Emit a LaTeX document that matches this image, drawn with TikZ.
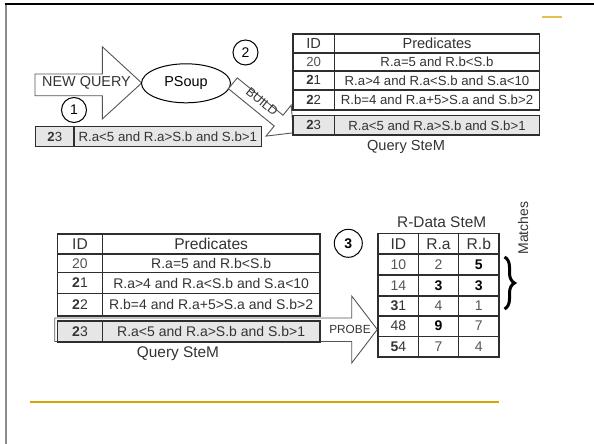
\documentclass[tikz,border=0pt]{standalone}
\usepackage{fontspec}
\setmainfont{Liberation Sans}
\usetikzlibrary{decorations.pathreplacing,shapes.geometric}

\definecolor{tblline}{HTML}{2E2E2E}
\definecolor{txt}{HTML}{333333}
\definecolor{soft}{HTML}{555555}
\definecolor{rowgray}{HTML}{E6E6E6}
\definecolor{arrowline}{HTML}{555555}
\definecolor{gold}{HTML}{D9A300}
\definecolor{goldlight}{HTML}{E3C24A}
\definecolor{framegray}{HTML}{8A8A8A}

\tikzset{
  cell/.style={draw=tblline, line width=1.6pt, fill=white, inner sep=0pt,
    anchor=north west, text=txt, font=\fontsize{13.2}{14}\selectfont},
  bigcell/.style={cell, font=\fontsize{14}{15}\selectfont},
  headcell/.style={cell, font=\fontsize{14.6}{16}\selectfont},
  bigheadcell/.style={cell, font=\fontsize{15.6}{17}\selectfont},
  graycell/.style={fill=rowgray},
  blockarrow/.style={draw=arrowline, line width=0.9pt, fill=white, line join=miter},
  marker/.style={circle, draw=black, line width=1pt, fill=white, inner sep=0pt,
    minimum size=25pt, font=\fontsize{14}{15}\selectfont},
  caption/.style={font=\fontsize{14.6}{16}\selectfont, text=txt, inner sep=0pt},
}

\begin{document}
\begin{tikzpicture}[x=1pt, y=-1pt]
\useasboundingbox (0,0) rectangle (594,444);

% page frame and accent rules
\draw[framegray, line width=2pt] (5.5,4) -- (5.5,444);
\draw[black, line width=1.3pt] (4.5,4) -- (594,4);
\draw[goldlight, line width=1.6pt] (542,17) -- (562,17);
\draw[gold, line width=1.5pt] (30,402) -- (499,402);

% ---------- upper part: new query enters PSoup and is built into the Query SteM
\coordinate (nqA) at (35,74);
\coordinate (nqTip) at (141.7,83);
\draw[blockarrow] (nqA) -- (102.3,74) -- (102.3,46.7) -- (nqTip) -- (102.3,119)
  -- (102.3,95.7) -- (35,95.7) -- cycle;
\node[caption, font=\fontsize{14.4}{16}\selectfont] (nqtext) at (86.5,83) {NEW QUERY};

\node[ellipse, draw=black, line width=1pt, fill=white, minimum width=89pt,
  minimum height=39pt, inner sep=0pt, font=\fontsize{14.4}{16}\selectfont] (psoup) at (186,83.3) {PSoup};

% BUILD arrow running from PSoup down to the stored query row
\coordinate (bS1) at (237.3,77.9);
\coordinate (bTip) at (293.5,132.8);
\draw[blockarrow] (bS1) -- (283.0,115.2) -- (291.2,105.1) -- (bTip) -- (266.0,136.1)
  -- (274.2,126.0) -- (228.4,88.7) -- cycle;
\node[inner sep=0pt, rotate=-39.2, font=\fontsize{12.5}{14}\selectfont, text=txt] (buildtxt) at (262,101.5) {BUILD};

% the incoming query
\node[cell, graycell, minimum width=38.3pt, minimum height=19.7pt, line width=1.3pt] (n23id) at (35,126) {\textbf{2}3};
\node[cell, graycell, minimum width=187.7pt, minimum height=19.7pt, line width=1.3pt,
  font=\fontsize{13.3}{14}\selectfont] (n23p) at (73.3,126) {R.a<5 and R.a>S.b and S.b>1};

\node[marker] (m1) at (74,110) {1};
\node[marker] (m2) at (245.5,52.5) {2};

% Query SteM (upper)
\node[headcell, minimum width=41.7pt, minimum height=19pt] (qhid) at (292,33.3) {ID};
\node[headcell, minimum width=205pt, minimum height=19pt] (qhp) at (333.7,33.3) {Predicates};
\node[cell, minimum width=41.7pt, minimum height=17.7pt, text=soft] (q20id) at (292,52.3) {20};
\node[cell, minimum width=205pt, minimum height=17.7pt] (q20p) at (333.7,52.3) {R.a=5 and R.b<S.b};
\node[cell, minimum width=41.7pt, minimum height=19pt] (q21id) at (292,70) {\textbf{2}1};
\node[cell, minimum width=205pt, minimum height=19pt] (q21p) at (333.7,70) {R.a>4 and R.a<S.b and S.a<10};
\node[cell, minimum width=41.7pt, minimum height=20.3pt] (q22id) at (292,89) {\textbf{2}2};
\node[cell, minimum width=205pt, minimum height=20.3pt] (q22p) at (333.7,89) {R.b=4 and R.a+5>S.a and S.b>2};
\node[cell, graycell, minimum width=41.7pt, minimum height=19.6pt] (q23id) at (292,114.7) {\textbf{2}3};
\node[cell, graycell, minimum width=205pt, minimum height=19.6pt] (q23p) at (333.7,114.7) {R.a<5 and R.a>S.b and S.b>1};
\node[caption] (qcap) at (406,146.7) {Query SteM};

% ---------- lower part: the query probes the R-Data SteM
\coordinate (pbL) at (54.7,318);
\coordinate (pbTip) at (377.3,329.5);
\draw[blockarrow] (pbL) -- (351.7,318) -- (351.7,296) -- (pbTip) -- (351.7,363)
  -- (351.7,341.5) -- (54.7,341.5) -- cycle;

% Query SteM (lower)
\node[bigheadcell, minimum width=45pt, minimum height=20pt] (bhid) at (56.7,233.3) {ID};
\node[bigheadcell, minimum width=217.3pt, minimum height=20pt] (bhp) at (101.7,233.3) {Predicates};
\node[bigcell, minimum width=45pt, minimum height=18.4pt, text=soft] (b20id) at (56.7,253.3) {20};
\node[bigcell, minimum width=217.3pt, minimum height=18.4pt] (b20p) at (101.7,253.3) {R.a=5 and R.b<S.b};
\node[bigcell, minimum width=45pt, minimum height=21pt] (b21id) at (56.7,271.7) {\textbf{2}1};
\node[bigcell, minimum width=217.3pt, minimum height=21pt] (b21p) at (101.7,271.7) {R.a>4 and R.a<S.b and S.a<10};
\node[bigcell, minimum width=45pt, minimum height=22.3pt] (b22id) at (56.7,292.7) {\textbf{2}2};
\node[bigcell, minimum width=217.3pt, minimum height=22.3pt] (b22p) at (101.7,292.7) {R.b=4 and R.a+5>S.a and S.b>2};
\node[bigcell, graycell, minimum width=45pt, minimum height=21pt] (b23id) at (56.7,320) {\textbf{2}3};
\node[bigcell, graycell, minimum width=217.3pt, minimum height=21pt] (b23p) at (101.7,320) {R.a<5 and R.a>S.b and S.b>1};
\node[caption, font=\fontsize{15.4}{17}\selectfont] (bcap) at (178,354) {Query SteM};

\node[inner sep=0pt, font=\fontsize{11.8}{13}\selectfont, text=txt] (probetxt) at (350,329.5) {PROBE};

% R-Data SteM
\node[caption, font=\fontsize{15.4}{17}\selectfont] (dcap) at (441.7,221.7) {R-Data SteM};
\node[bigheadcell, minimum width=40.4pt, minimum height=20.6pt] (dhid) at (377.3,232.7) {ID};
\node[bigheadcell, minimum width=40pt, minimum height=20.6pt] (dhra) at (417.7,232.7) {R.a};
\node[bigheadcell, minimum width=40.6pt, minimum height=20.6pt] (dhrb) at (457.7,232.7) {R.b};

\node[bigcell, minimum width=40.4pt, minimum height=21pt, text=soft] (d1id) at (377.3,253.3) {10};
\node[bigcell, minimum width=40pt, minimum height=21pt, text=soft] (d1ra) at (417.7,253.3) {2};
\node[bigcell, minimum width=40.6pt, minimum height=21pt, text=black] (d1rb) at (457.7,253.3) {\textbf{5}};

\node[bigcell, minimum width=40.4pt, minimum height=20.7pt, text=soft] (d2id) at (377.3,274.3) {14};
\node[bigcell, minimum width=40pt, minimum height=20.7pt, text=black] (d2ra) at (417.7,274.3) {\textbf{3}};
\node[bigcell, minimum width=40.6pt, minimum height=20.7pt, text=black] (d2rb) at (457.7,274.3) {\textbf{3}};

\node[bigcell, minimum width=40.4pt, minimum height=20pt] (d3id) at (377.3,295) {\textbf{3}1};
\node[bigcell, minimum width=40pt, minimum height=20pt, text=soft] (d3ra) at (417.7,295) {4};
\node[bigcell, minimum width=40.6pt, minimum height=20pt, text=soft] (d3rb) at (457.7,295) {1};

\node[bigcell, minimum width=40.4pt, minimum height=20.7pt] (d4id) at (377.3,315) {48};
\node[bigcell, minimum width=40pt, minimum height=20.7pt, text=black] (d4ra) at (417.7,315) {\textbf{9}};
\node[bigcell, minimum width=40.6pt, minimum height=20.7pt, text=soft] (d4rb) at (457.7,315) {7};

\node[bigcell, minimum width=40.4pt, minimum height=20.3pt] (d5id) at (377.3,335.7) {\textbf{5}4};
\node[bigcell, minimum width=40pt, minimum height=20.3pt, text=soft] (d5ra) at (417.7,335.7) {7};
\node[bigcell, minimum width=40.6pt, minimum height=20.3pt, text=soft] (d5rb) at (457.7,335.7) {4};

% brace over the matching rows
\coordinate (brTop) at (504.5,257);
\coordinate (brBot) at (504.5,309);
\draw[black, line width=3pt, decorate, decoration={brace, amplitude=10pt}] (brTop) -- (brBot);
\node[caption, rotate=90, font=\fontsize{14}{15}\selectfont] (matches) at (523,228) {Matches};

\node[marker, minimum size=28pt, font=\bfseries\fontsize{14}{15}\selectfont] (m3) at (348.3,243.3) {3};
\end{tikzpicture}
\end{document}
